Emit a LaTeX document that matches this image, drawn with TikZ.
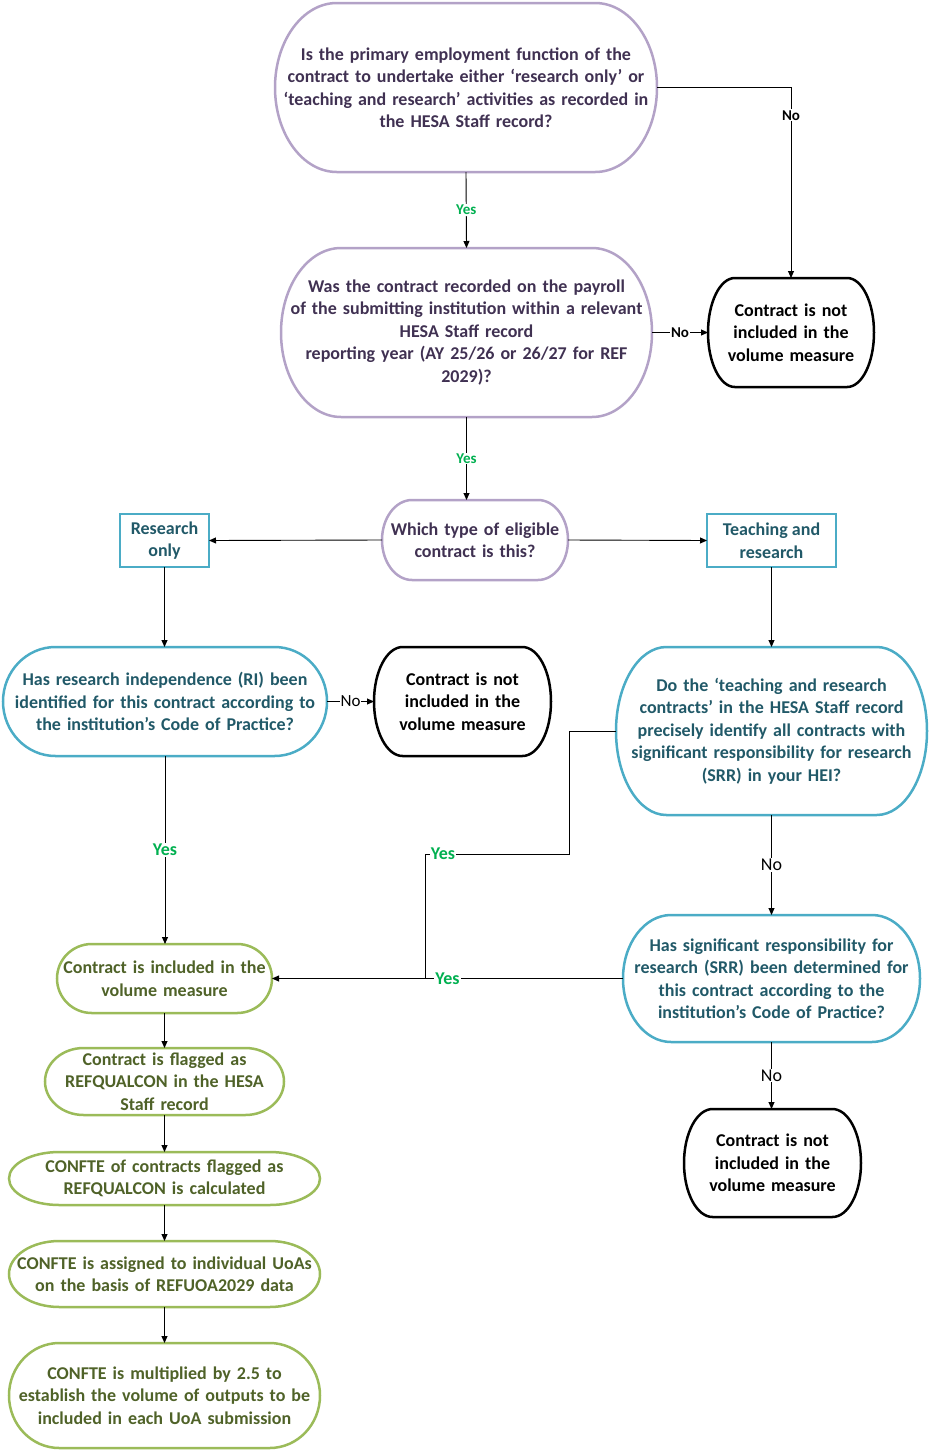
\documentclass[tikz,border=0pt]{standalone}
\usepackage{fontspec}
\setmainfont{Carlito}
\usetikzlibrary{arrows.meta}
\definecolor{purpB}{HTML}{B3A2C7}
\definecolor{purpT}{HTML}{403152}
\definecolor{tealB}{HTML}{4BACC6}
\definecolor{tealT}{HTML}{215968}
\definecolor{grnB}{HTML}{9BBB59}
\definecolor{grnT}{HTML}{4F6228}
\definecolor{blkB}{HTML}{000000}
\definecolor{blkT}{HTML}{000000}
\definecolor{yesG}{HTML}{00B050}
\tikzset{
  box/.style={inner sep=0pt, outer sep=0pt, align=center,
    font=\fontsize{18}{22.5}\selectfont\bfseries},
  rectbox/.style={box, draw=tealB, line width=2.5pt, text=tealT},
  conn/.style={draw, line width=0.9pt, -{Triangle[length=7pt,width=6pt]}},
  plainline/.style={draw, line width=0.9pt},
  smalllab/.style={fill=white, inner sep=1pt, font=\fontsize{15}{17}\selectfont\bfseries},
  yeslab/.style={fill=white, inner sep=1pt, text=yesG, font=\fontsize{18}{20}\selectfont\bfseries},
  nolab/.style={fill=white, inner sep=1pt, font=\fontsize{18}{20}\selectfont},
}
\newcommand\termnode[7]{%
  \node[box, text=#6T, text width=#4pt, minimum height=#5pt] (#1) at (#2,#3) {#7};
  \draw[line width=2.5pt, draw=#6B]
    ([xshift={0.1618*#4pt}]#1.north west) -- ([xshift={-0.1618*#4pt}]#1.north east)
    arc[start angle=90, end angle=-90, x radius={0.1618*#4pt}, y radius={#5pt/2}]
    -- ([xshift={0.1618*#4pt}]#1.south west)
    arc[start angle=270, end angle=90, x radius={0.1618*#4pt}, y radius={#5pt/2}]
    -- cycle;
}
\begin{document}
\begin{tikzpicture}[x=1pt,y=-1pt]
\useasboundingbox (0,0) rectangle (929,1451);
\termnode{q1}{466}{87.5}{382}{169}{purp}{Is the primary employment function of the\\contract to undertake either ‘research only’ or\\‘teaching and research’ activities as recorded in\\the HESA Staff record?}
\termnode{q2}{466.5}{332.5}{371}{169}{purp}{Was the contract recorded on the payroll\\of the submitting institution within a relevant\\HESA Staff record\\reporting year (AY 25/26 or 26/27 for REF\\2029)?}
\termnode{ni1}{791}{332.5}{166}{109}{blk}{Contract is not\\included in the\\volume measure}
\termnode{which}{475}{540}{186}{80}{purp}{Which type of eligible\\contract is this?}
\node[rectbox, minimum width=89pt, minimum height=53pt] (ro) at (164.5,540.5) {Research\\only};
\node[rectbox, minimum width=129pt, minimum height=53pt] (tar) at (771.5,540.5) {Teaching and\\research};
\termnode{ri}{165}{701.5}{324}{109}{teal}{Has research independence (RI) been\\identified for this contract according to\\the institution’s Code of Practice?}
\termnode{ni2}{462.5}{701.5}{177}{109}{blk}{Contract is not\\included in the\\volume measure}
\termnode{tr}{771.5}{731}{311}{168}{teal}{Do the ‘teaching and research\\contracts’ in the HESA Staff record\\precisely identify all contracts with\\significant responsibility for research\\(SRR) in your HEI?}
\termnode{srr}{771.5}{978.5}{297}{127}{teal}{Has significant responsibility for\\research (SRR) been determined for\\this contract according to the\\institution’s Code of Practice?}
\termnode{ni3}{772.5}{1163}{177}{108}{blk}{Contract is not\\included in the\\volume measure}
\termnode{inc}{164.5}{978.5}{215}{69}{grn}{Contract is included in the\\volume measure}
\termnode{flag}{164.5}{1081.5}{239}{67}{grn}{Contract is flagged as\\REFQUALCON in the HESA\\Staff record}
\termnode{cf1}{164.5}{1178.5}{311}{53}{grn}{CONFTE of contracts flagged as\\REFQUALCON is calculated}
\termnode{cf2}{164.5}{1274}{311}{66}{grn}{CONFTE is assigned to individual UoAs\\on the basis of REFUOA2029 data}
\termnode{cf3}{164.5}{1395.5}{311}{105}{grn}{CONFTE is multiplied by 2.5 to\\establish the volume of outputs to be\\included in each UoA submission}
% connectors
\draw[conn] (q1.south) -- node[smalllab, text=yesG] {Yes} (q2.north);
\draw[conn] (q1.east) -| node[smalllab, pos=0.573] {No} (ni1.north);
\draw[conn] (q2.east) -- node[smalllab] {No} (ni1.west);
\draw[conn] (q2.south) -- node[smalllab, text=yesG] {Yes} (q2.south |- which.north);
\draw[conn] (which.west) -- (ro.east);
\draw[conn] (which.east) -- (tar.west);
\draw[conn] (ro.south) -- (ro.south |- ri.north);
\draw[conn] (tar.south) -- (tar.south |- tr.north);
\draw[conn] (ri.east) -- node[fill=white, inner sep=1pt, font=\fontsize{17}{19}\selectfont] {No} (ni2.west);
\draw[conn] (ri.south) -- node[yeslab] {Yes} (ri.south |- inc.north);
\coordinate (c1) at (569,731);
\coordinate (c2) at (569,854);
\coordinate (c3) at (425,854);
\coordinate (c4) at (425,978.5);
\draw[plainline] (tr.west) -- (c1) -- (c2) -- node[yeslab, pos=0.875] {Yes} (c3) -- (c4);
\draw[conn] (srr.west) -- node[yeslab] {Yes} (inc.east);
\draw[conn] (tr.south) -- node[nolab] {No} (srr.north);
\draw[conn] (srr.south) -- node[nolab] {No} (srr.south |- ni3.north);
\draw[conn] (inc.south) -- (flag.north);
\draw[conn] (flag.south) -- (cf1.north);
\draw[conn] (cf1.south) -- (cf2.north);
\draw[conn] (cf2.south) -- (cf3.north);
\end{tikzpicture}
\end{document}
